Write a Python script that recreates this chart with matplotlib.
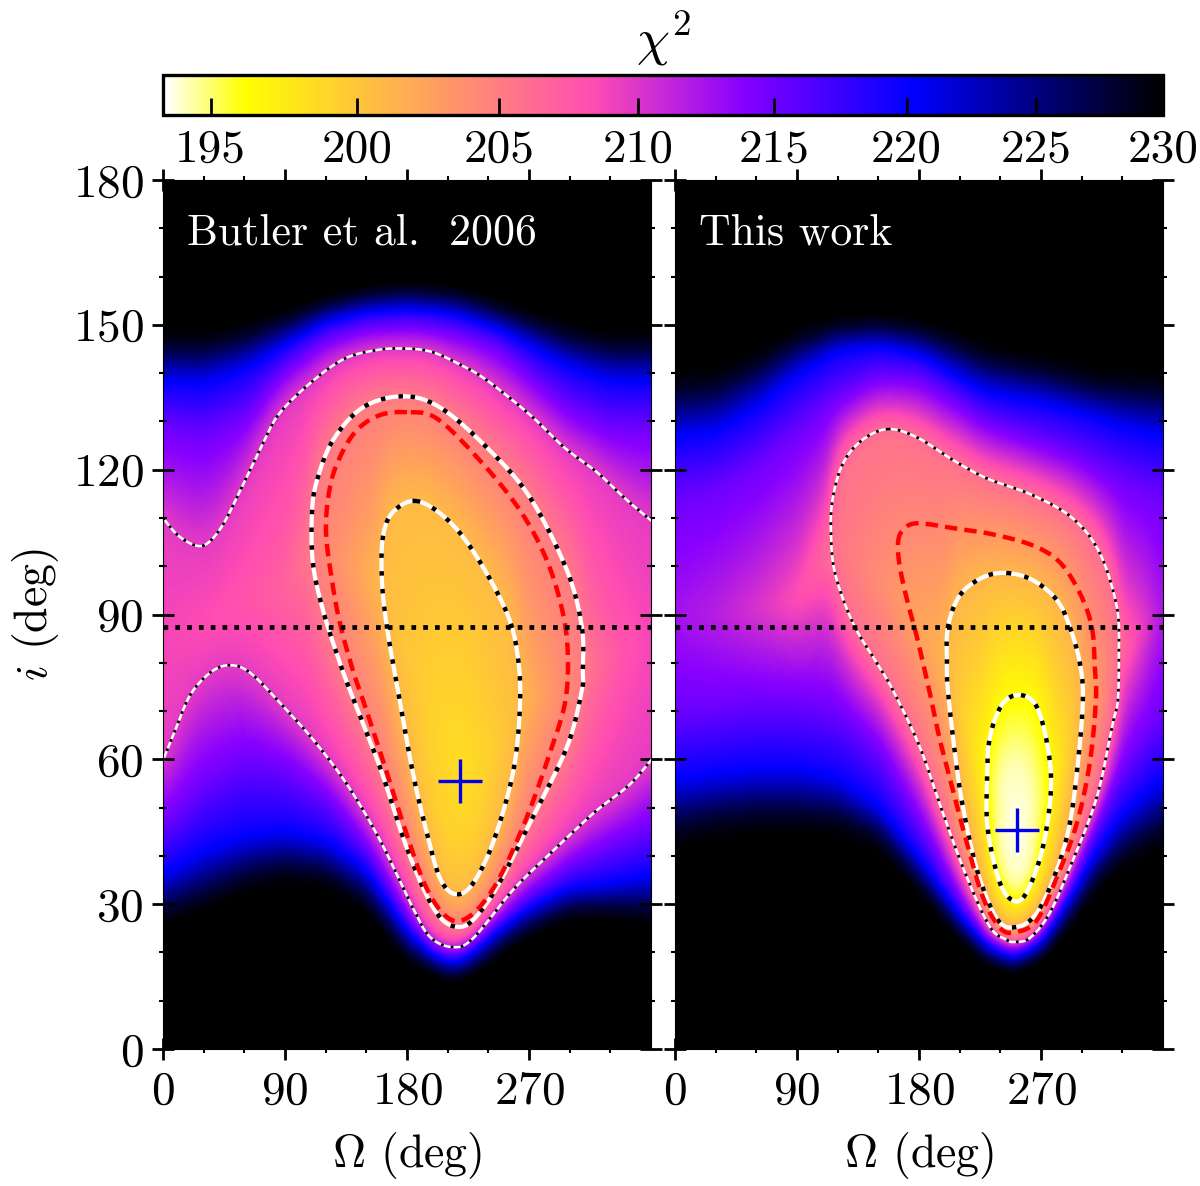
import numpy as np
import matplotlib
matplotlib.use('Agg')
import matplotlib.pyplot as plt
from matplotlib.colors import LogNorm
from matplotlib.ticker import NullLocator

plt.rcParams['font.family'] = ['cmr10', 'DejaVu Serif']
plt.rcParams['mathtext.fontset'] = 'cm'
plt.rcParams['axes.formatter.use_mathtext'] = True
plt.rcParams['axes.unicode_minus'] = False

# --- left panel (Butler et al. 2006), contours (Omega, i)
left_outer_up_om = [0, 11, 24, 33, 44, 57, 73, 86, 111, 134, 156, 175, 197, 219, 239, 271, 296, 320, 341, 360]
left_outer_up_i = [110, 106.4, 104.3, 104.8, 108.5, 115.7, 125, 131.7, 138.5, 143, 144.7, 145.1, 144.5, 141.8, 138.5, 131.3, 124.6, 119.5, 114, 109.5]
left_outer_lo_om = [0, 9, 20, 35, 49, 64, 86, 111, 136, 160, 184, 197, 214, 229, 258, 283, 308, 322, 344, 360]
left_outer_lo_i = [59.8, 66, 73.3, 78, 79.5, 78, 71.8, 64, 54.7, 43.3, 29.4, 23.2, 21.1, 23, 32.9, 39.8, 46.4, 49.9, 54.7, 59.8]
left_mid_om = [177, 147.5, 125.4, 113.6, 109.9, 110.6, 118, 129, 137.9, 160, 177, 191.7, 204.3, 216.8, 228.6, 246.3, 270.6, 297.9, 309, 309.7, 309, 297.9, 270.6, 238.9, 204.3]
left_mid_i = [135.2, 132.9, 126.1, 117.8, 111, 100.6, 90.9, 81.2, 74.3, 58.4, 43.9, 33.5, 27.3, 25.3, 26.7, 33.5, 46.8, 62.5, 74.3, 77.8, 87.4, 99.2, 114.3, 124.6, 132.9]
left_inner_om = [187.3, 169.6, 162.2, 161.5, 165.2, 173.3, 184.4, 194.7, 204.3, 215.3, 227.9, 243.4, 258.1, 263.3, 261.8, 253.7, 231.6, 210.4]
left_inner_i = [113.5, 111.2, 106, 97.1, 87.4, 74.3, 57.1, 44.7, 35.4, 32.1, 34, 42.7, 57.1, 70.8, 81.2, 90.3, 101.9, 109.5]
left_red_om = [180, 160, 143, 130.5, 123.2, 120.2, 124.6, 130.5, 140, 147.5, 162.2, 177, 191.7, 204.3, 216.8, 231.6, 248.5, 268.4, 285.4, 296.5, 298.7, 295, 283.2, 263.3, 233.8, 202]
left_red_i = [131.9, 131.3, 128.2, 122.6, 116.4, 107.5, 97.1, 88.2, 78.5, 72.3, 59.8, 46.8, 35, 28.8, 26.5, 28.8, 35.6, 48, 61.3, 71.6, 81.2, 90.3, 101.2, 111.6, 121.9, 130.6]
# brightest patch around the best fit, not drawn as a line
left_core_om = [212, 228, 238, 240, 232, 220, 208, 198, 192, 196]
left_core_i = [80, 76, 65, 55, 45, 41, 44, 53, 65, 76]
left_best = (219, 55.5)
left_levels = [209.5, 205, 200.7, 199.3]  # outer, middle, inner, core

# where chi2 reaches a given value below and above the valley, per Omega column
left_cols = [0, 30, 60, 90, 120, 150, 180, 200, 215, 230, 250, 270, 300, 330, 360]
left_lo_215 = [46, 55, 60, 58, 52, 42, 27.5, 21, 19.5, 22.5, 27, 32, 38, 42, 46]
left_lo_220 = [36, 41, 44, 45, 43, 37, 24.5, 19, 17.5, 20, 25, 29, 33, 34, 36]
left_lo_229 = [28, 31, 35, 37, 36, 31, 20, 17, 15.3, 17, 21.5, 25, 29, 29, 28]
left_hi_215 = [129, 127, 131, 141, 147, 149.5, 150, 149.5, 148.5, 147.5, 145, 140, 133, 129, 129]
left_hi_220 = [138.5, 138, 141, 146, 151, 153, 153.5, 153, 152.5, 151, 149, 146, 141.5, 138.5, 138.5]
left_hi_229 = [146, 146, 148, 151, 154, 156, 157, 156.5, 156, 155, 153, 151, 148, 146, 146]
# bottom of the valley per column
left_ridge_om = [0, 30, 60, 90, 110, 135, 161, 190, 219, 240, 263, 290, 310, 335, 360]
left_ridge_i = [85, 88, 92, 95, 105, 100, 97, 75, 55.5, 60, 71, 75, 78, 82, 85]
left_ridge_chi = [208.8, 208.3, 207.8, 206.8, 205, 203, 200.7, 199.5, 198.2, 199.1, 200.7, 203.5, 205, 207.6, 208.8]

# --- right panel (This work)
right_outer_om = [157, 178.5, 205, 230, 264, 293.5, 313.4, 326, 327.4, 326.7, 323, 311.2, 293.5, 276.5, 261.8, 250.7, 244.8, 232.3, 215.3, 197.6, 180.7, 160.8, 149, 131.3, 118, 115, 116.5, 123.9, 137.9]
right_outer_i = [128.4, 126.7, 122, 118.2, 114.7, 109.9, 102.7, 91.5, 82, 72.3, 67.5, 52.2, 39.1, 28.2, 23, 22.2, 22.6, 25.3, 35.6, 48.9, 62.5, 74.3, 79.9, 88.2, 98.6, 107.5, 114.3, 121.3, 126.1]
right_mid_om = [244.8, 264, 281.7, 291.3, 298.7, 300.9, 297.2, 291.3, 281.7, 267, 252.2, 238.2, 223.5, 212.4, 206.5, 201.3, 200.6, 201.3, 210.2, 227.1]
right_mid_i = [98.6, 97.1, 93, 87.4, 79.9, 72.3, 59.2, 46.8, 37.1, 28.2, 25.3, 26.7, 36.4, 50.1, 61.3, 74.3, 79.9, 87.4, 94, 97.7]
right_inner_om = [255.2, 267, 275, 277.3, 271.4, 260.3, 250.7, 239.7, 230.8, 230.1, 232.3, 241.9]
right_inner_i = [73.3, 70.8, 62.5, 53.6, 41.8, 32.9, 30.6, 34.4, 45.3, 55.1, 64.6, 71.6]
right_red_om = [164.5, 168.1, 178.5, 205, 234.5, 264, 283.9, 298.7, 307.5, 309.7, 310.5, 306, 296.5, 283.9, 267, 250.7, 239.7, 227.1, 215.3, 205, 195.4, 188, 178.5, 171.8, 165.9]
right_red_i = [104.8, 107.5, 108.9, 107.9, 106.6, 104.3, 100.8, 94.4, 87.4, 79.1, 72.3, 59.2, 46.8, 37.1, 26.7, 24.2, 25.1, 31.5, 42.7, 53.6, 64, 73.7, 85.3, 92.3, 99.8]
right_core_om = [252, 262, 268, 267, 260, 251, 241, 236, 236, 242]
right_core_i = [59, 56, 48, 40, 35, 34, 37, 44, 52, 57]
right_best = (252, 45.3)
right_levels = [205.8, 201, 196.3, 194.2]

right_cols = [0, 30, 60, 90, 120, 150, 180, 210, 230, 250, 270, 290, 310, 330, 360]
right_lo_215 = [70, 71, 72, 72, 70, 62, 47, 31, 23, 20, 24, 34, 47, 58, 70]
right_lo_220 = [56, 57, 58, 58, 56, 50, 39, 27, 21, 18.4, 21.5, 30, 40, 48.5, 56]
right_lo_229 = [45, 47, 48, 48, 47.5, 44, 35, 25, 19.3, 17.4, 20, 27, 35, 40, 45]
right_hi_215 = [114, 116, 121, 128, 135, 139.5, 139, 134, 130, 128, 126, 124, 121, 118, 114]
right_hi_220 = [127, 128, 133, 140, 145, 146, 144, 139, 136, 135, 134, 132.5, 131, 129, 127]
right_hi_229 = [137, 138, 142, 147, 149.5, 150, 149, 146, 143.5, 142, 141, 139.5, 138, 137.5, 137]
right_ridge_om = [0, 30, 60, 90, 115, 160, 200, 230, 240, 252, 264, 277, 300, 327, 345, 360]
right_ridge_i = [90, 90, 91, 93, 105, 95, 80, 55, 48, 45, 47, 53, 72, 82, 87, 90]
right_ridge_chi = [212.5, 211.5, 210, 208, 205.8, 203.3, 201, 196.3, 194.2, 193.4, 194.2, 196.3, 201, 205.8, 209, 212.5]

dotted_i = 87.4
bar_ticks = [195, 200, 205, 210, 215, 220, 225, 230]
chi_min, chi_max = 193.4, 230
omega_ticks = [0, 90, 180, 270]
omega_minor = [30, 60, 120, 150, 210, 240, 300, 330]
i_ticks = [0, 30, 60, 90, 120, 150, 180]
i_minor = [10, 20, 40, 50, 70, 80, 100, 110, 130, 140, 160, 170]


def spline(om, inc, closed=True, n=12):
    # Catmull-Rom through the points
    p = np.column_stack([om, inc])
    if closed:
        p = np.vstack([p[-1], p, p[0], p[1]])
    else:
        p = np.vstack([p[0], p, p[-1]])
    t = np.linspace(0, 1, n, endpoint=False)[:, None]
    parts = []
    for k in range(1, len(p) - 2):
        p0, p1, p2, p3 = p[k - 1:k + 3]
        parts.append(0.5 * (2 * p1 + (p2 - p0) * t + (2 * p0 - 5 * p1 + 4 * p2 - p3) * t**2
                            + (3 * p1 - p0 - 3 * p2 + p3) * t**3))
    parts.append(p[-2][None])
    c = np.vstack(parts)
    return c[:, 0], c[:, 1]


def crossings(om, inc, omega):
    s = om - omega
    k = np.where((s[:-1] < 0) != (s[1:] < 0))[0]
    return inc[k] + (inc[k + 1] - inc[k]) * (-s[k]) / (s[k + 1] - s[k])


def blur(z, axis, n=5, passes=3):
    kernel = np.ones(n) / n
    for _ in range(passes):
        z = np.apply_along_axis(lambda v: np.convolve(np.pad(v, n, mode='edge'), kernel, mode='same')[n:-n], axis, z)
    return z


def build_field(cols, flanks, ridge, contours):
    omega_grid = np.arange(360) + 0.5
    i_grid = np.arange(360) * 0.5 + 0.25
    field = np.zeros((len(i_grid), len(omega_grid)))
    for j, omega in enumerate(omega_grid):
        knots = [(-1.0, 240.0), (181.0, 240.0)]
        for level, row in flanks:
            knots.append((np.interp(omega, cols, row), level))
        knots.append((np.interp(omega, ridge[0], ridge[1]), np.interp(omega, ridge[0], ridge[2])))
        for om, inc, level in contours:
            for v in crossings(om, inc, omega):
                knots.append((v, level))
        knots = np.array(sorted(knots))
        field[:, j] = np.interp(i_grid, knots[:, 0], knots[:, 1])
    return blur(blur(field, 0, n=7), 1, n=9)


left_curves = {
    'up': spline(left_outer_up_om, left_outer_up_i, closed=False),
    'lo': spline(left_outer_lo_om, left_outer_lo_i, closed=False),
    'mid': spline(left_mid_om, left_mid_i),
    'in': spline(left_inner_om, left_inner_i),
    'red': spline(left_red_om, left_red_i),
    'core': spline(left_core_om, left_core_i),
}
right_curves = {
    'out': spline(right_outer_om, right_outer_i),
    'mid': spline(right_mid_om, right_mid_i),
    'in': spline(right_inner_om, right_inner_i),
    'red': spline(right_red_om, right_red_i),
    'core': spline(right_core_om, right_core_i),
}

left_field = build_field(
    left_cols,
    [(215, left_lo_215), (220, left_lo_220), (229, left_lo_229),
     (215, left_hi_215), (220, left_hi_220), (229, left_hi_229)],
    (left_ridge_om, left_ridge_i, left_ridge_chi),
    [(*left_curves['up'], left_levels[0]), (*left_curves['lo'], left_levels[0]),
     (*left_curves['mid'], left_levels[1]), (*left_curves['in'], left_levels[2]),
     (*left_curves['core'], left_levels[3])])
right_field = build_field(
    right_cols,
    [(215, right_lo_215), (220, right_lo_220), (229, right_lo_229),
     (215, right_hi_215), (220, right_hi_220), (229, right_hi_229)],
    (right_ridge_om, right_ridge_i, right_ridge_chi),
    [(*right_curves['out'], right_levels[0]), (*right_curves['mid'], right_levels[1]),
     (*right_curves['in'], right_levels[2]), (*right_curves['core'], right_levels[3])])

W, H = 1200.0, 1186.0
fig = plt.figure(figsize=(12, 11.86), dpi=100)
ax1 = fig.add_axes([163 / W, 1 - 1049 / H, 488 / W, 869 / H])
ax2 = fig.add_axes([675 / W, 1 - 1049 / H, 488 / W, 869 / H])
cax = fig.add_axes([163 / W, 1 - 115 / H, 1000 / W, 40 / H])
norm = LogNorm(vmin=chi_min, vmax=chi_max)


def thick(ax, x, y):
    ax.plot(x, y, color='white', lw=3.0)
    ax.plot(x, y, color='black', lw=3.2, ls=(0, (1, 3.0)))


def thin(ax, x, y):
    ax.plot(x, y, color='white', lw=1.8)
    ax.plot(x, y, color='black', lw=2.0, ls=(0, (1, 2.6)))


def red(ax, x, y):
    ax.plot(x, y, color='#ff0000', lw=3.2, ls=(0, (2.8, 1.6)))


for ax, field in [(ax1, left_field), (ax2, right_field)]:
    im = ax.imshow(field, origin='lower', extent=[0, 360, 0, 180], aspect='auto',
                   cmap='gnuplot2_r', norm=norm, interpolation='bilinear')

thin(ax1, *left_curves['up'])
thin(ax1, *left_curves['lo'])
thick(ax1, *left_curves['mid'])
thick(ax1, *left_curves['in'])
red(ax1, *left_curves['red'])

thin(ax2, *right_curves['out'])
thick(ax2, *right_curves['mid'])
thick(ax2, *right_curves['in'])
red(ax2, *right_curves['red'])

for ax, best in [(ax1, left_best), (ax2, right_best)]:
    ax.plot([0, 360], [dotted_i, dotted_i], color='black', lw=3.4, ls=(0, (1, 1.5)))
    ax.plot([best[0]], [best[1]], '+', color='#0000ee', ms=32, mew=2.4)
    ax.set_xlim(0, 360)
    ax.set_ylim(0, 180)
    ax.set_xticks(omega_ticks)
    ax.set_xticks(omega_minor, minor=True)
    ax.set_yticks(i_ticks)
    ax.set_yticks(i_minor, minor=True)
    ax.tick_params(which='major', direction='inout', length=16, width=2, top=True, right=True,
                   labelsize=34, pad=6)
    ax.tick_params(which='minor', direction='inout', length=6, width=1.5, top=True, right=True)
    ax.tick_params(axis='x', which='major', pad=8)
    ax.set_xlabel(r'$\Omega$ (deg)', fontsize=33, labelpad=12)
    for s in ax.spines.values():
        s.set_linewidth(0.8)

ax1.set_ylabel(r'$i$ (deg)', fontsize=33, labelpad=8)
ax2.tick_params(axis='y', which='both', labelleft=False)
ax1.text(17.8, 169, 'Butler et al.  2006', color='white', fontsize=31.5, va='center')
ax2.text(18, 169, 'This work', color='white', fontsize=31.5, va='center')

cb = fig.colorbar(im, cax=cax, orientation='horizontal')
cb.set_ticks(bar_ticks, labels=[str(t) for t in bar_ticks])
cax.xaxis.set_minor_locator(NullLocator())
cax.tick_params(axis='x', which='major', direction='in', length=12, width=2, labelsize=34, pad=10)
cb.outline.set_linewidth(2.4)
cax.set_title(r'$\chi^2$', fontsize=38, pad=14)

fig.savefig('out.png', dpi=100)
